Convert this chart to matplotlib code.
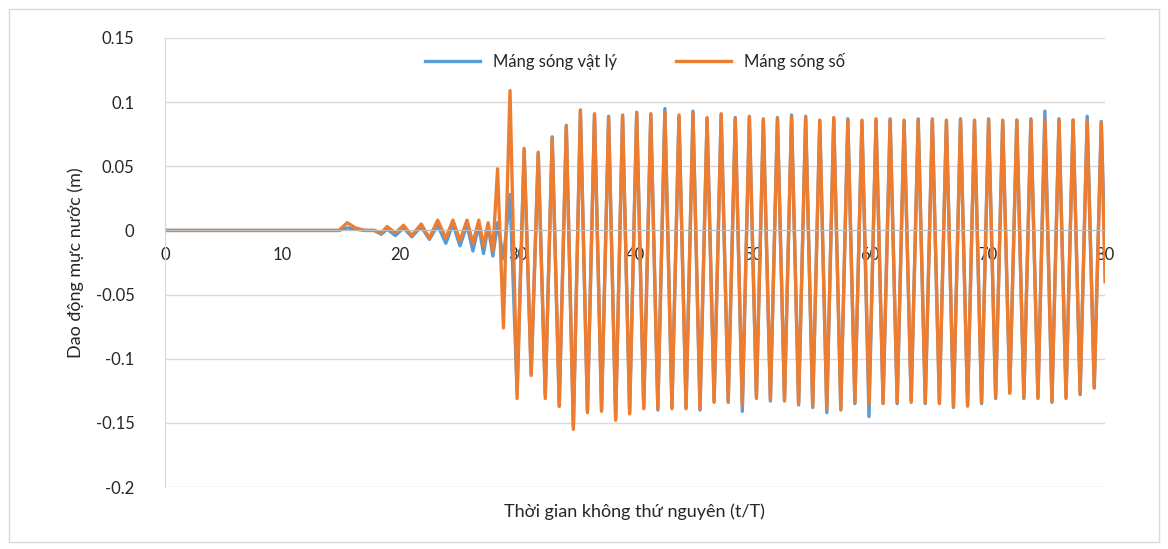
import matplotlib.pyplot as plt
import numpy as np
from matplotlib.patches import Rectangle

# values (t/T, water level in m)
early_t = [0, 14.8, 15.5, 16.2, 17.0, 17.8, 18.4, 18.9, 19.6, 20.3,
           21.0, 21.8, 22.5, 23.2, 23.9, 24.5, 25.1, 25.7, 26.2, 26.7,
           27.1, 27.5, 27.9, 28.3, 28.8]
early_so = [0, 0, 0.006, 0.002, 0.0, 0.0, -0.002, 0.003, -0.002, 0.004,
            -0.004, 0.005, -0.006, 0.008, -0.006, 0.008, -0.008, 0.008, -0.01, 0.008,
            -0.012, 0.006, -0.016, 0.048, -0.076]
early_vatly = [0, 0, 0.002, 0.001, 0.0, 0.0, -0.003, 0.001, -0.004, 0.002,
               -0.005, 0.003, -0.007, 0.004, -0.01, 0.005, -0.012, 0.004, -0.016, 0.004,
               -0.018, 0.003, -0.02, 0.006, -0.022]

peak_t = [29.36, 30.56, 31.76, 32.95, 34.15, 35.35, 36.55, 37.75, 38.94, 40.14,
          41.34, 42.54, 43.74, 44.93, 46.13, 47.33, 48.53, 49.73, 50.92, 52.12,
          53.32, 54.52, 55.72, 56.91, 58.11, 59.31, 60.51, 61.71, 62.90, 64.10,
          65.30, 66.50, 67.70, 68.89, 70.09, 71.29, 72.49, 73.69, 74.88, 76.08,
          77.28, 78.48, 79.68]
peak_so = [0.109, 0.064, 0.061, 0.072, 0.082, 0.094,
           0.091, 0.088, 0.090, 0.092, 0.091, 0.092, 0.090, 0.091, 0.088, 0.091,
           0.087, 0.089, 0.087, 0.087, 0.089, 0.088, 0.086, 0.088,
           0.086, 0.086, 0.087, 0.086, 0.086, 0.086, 0.087, 0.086, 0.086, 0.086,
           0.086, 0.086, 0.086, 0.086, 0.086, 0.086, 0.086, 0.085, 0.084]
peak_vatly = [0.028, 0.062, 0.060, 0.073, 0.081, 0.093,
              0.090, 0.089, 0.089, 0.092, 0.090, 0.095, 0.089, 0.093, 0.087, 0.090,
              0.088, 0.088, 0.086, 0.088, 0.090, 0.089, 0.085, 0.087,
              0.087, 0.085, 0.086, 0.087, 0.085, 0.087, 0.086, 0.085, 0.087, 0.085,
              0.087, 0.085, 0.086, 0.087, 0.093, 0.087, 0.086, 0.089, 0.085]

trough_t = [29.96, 31.16, 32.36, 33.55, 34.75, 35.95, 37.15, 38.35, 39.54, 40.74,
            41.94, 43.14, 44.34, 45.53, 46.73, 47.93, 49.13, 50.33, 51.52, 52.72,
            53.92, 55.12, 56.32, 57.51, 58.71, 59.91, 61.11, 62.31, 63.50, 64.70,
            65.90, 67.10, 68.30, 69.49, 70.69, 71.89, 73.09, 74.29, 75.48, 76.68,
            77.88, 79.08]
trough_so = [-0.131, -0.113, -0.131, -0.137, -0.155, -0.142,
             -0.141, -0.148, -0.143, -0.139, -0.139, -0.139, -0.139, -0.139, -0.134,
             -0.133, -0.136, -0.131, -0.132, -0.133, -0.135, -0.137, -0.139, -0.140,
             -0.134, -0.135, -0.135, -0.134, -0.134, -0.134, -0.135, -0.137, -0.137,
             -0.134, -0.130, -0.127, -0.130, -0.131, -0.133, -0.131, -0.127, -0.123]
trough_vatly = [-0.125, -0.112, -0.128, -0.137, -0.153, -0.141,
                -0.140, -0.146, -0.142, -0.138, -0.140, -0.138, -0.138, -0.140, -0.133,
                -0.134, -0.141, -0.130, -0.133, -0.132, -0.136, -0.138, -0.142, -0.139,
                -0.135, -0.145, -0.134, -0.135, -0.133, -0.135, -0.134, -0.138, -0.136,
                -0.135, -0.131, -0.126, -0.131, -0.130, -0.134, -0.130, -0.128, -0.122]

end_t = [80.0]
end_so = [-0.04]
end_vatly = [-0.02]

labels = ['Máng sóng vật lý', 'Máng sóng số']
colors = ['#5B9BD5', '#ED7D31']


def series(parts_t, parts_y):
    t = np.concatenate(parts_t)
    y = np.concatenate(parts_y)
    order = np.argsort(t, kind='stable')
    return t[order], y[order]


all_t = [early_t, peak_t, trough_t, end_t]
t1, y1 = series(all_t, [early_vatly, peak_vatly, trough_vatly, end_vatly])
t2, y2 = series(all_t, [early_so, peak_so, trough_so, end_so])

plt.rcParams['font.family'] = ['Lato', 'DejaVu Sans']
txt = '#262626'

fig = plt.figure(figsize=(11.68, 5.49), dpi=100)
fig.patches.append(Rectangle((0.008, 0.012), 0.984, 0.972, transform=fig.transFigure,
                             fill=False, edgecolor='#d9d9d9', linewidth=1))
ax = fig.add_axes([0.1413, 0.1129, 0.8048, 0.8179])

ax.plot(t1, y1, color=colors[0], linewidth=2.4, label=labels[0])
ax.plot(t2, y2, color=colors[1], linewidth=2.4, label=labels[1])

ax.set_xlim(0, 80)
ax.set_ylim(-0.2, 0.15)
ax.set_yticks([-0.2, -0.15, -0.1, -0.05, 0, 0.05, 0.1, 0.15])
ax.set_yticklabels(['-0.2', '-0.15', '-0.1', '-0.05', '0', '0.05', '0.1', '0.15'])
ax.set_xticks(range(0, 81, 10))
ax.grid(axis='y', color='#d9d9d9', linewidth=1)
ax.set_axisbelow(True)

for s in ['top', 'right']:
    ax.spines[s].set_visible(False)
ax.spines['left'].set_color('#d9d9d9')
ax.spines['bottom'].set_position(('data', 0))
ax.spines['bottom'].set_color('#bfbfbf')
ax.tick_params(axis='both', length=0, labelsize=12, colors=txt)
ax.tick_params(axis='x', pad=12)
ax.tick_params(axis='y', pad=22)

fig.text(0.5436, 0.067, 'Thời gian không thứ nguyên (t/T)', ha='center', va='center',
         fontsize=13, color=txt)
ax.set_ylabel('Dao động mực nước (m)', fontsize=13, color=txt, labelpad=8)

ax.legend(loc='upper center', bbox_to_anchor=(0.5, 1.0), ncol=2, frameon=False,
          fontsize=12, handlelength=3.3, columnspacing=3.5, labelcolor=txt)

fig.savefig('out.png', dpi=100)
